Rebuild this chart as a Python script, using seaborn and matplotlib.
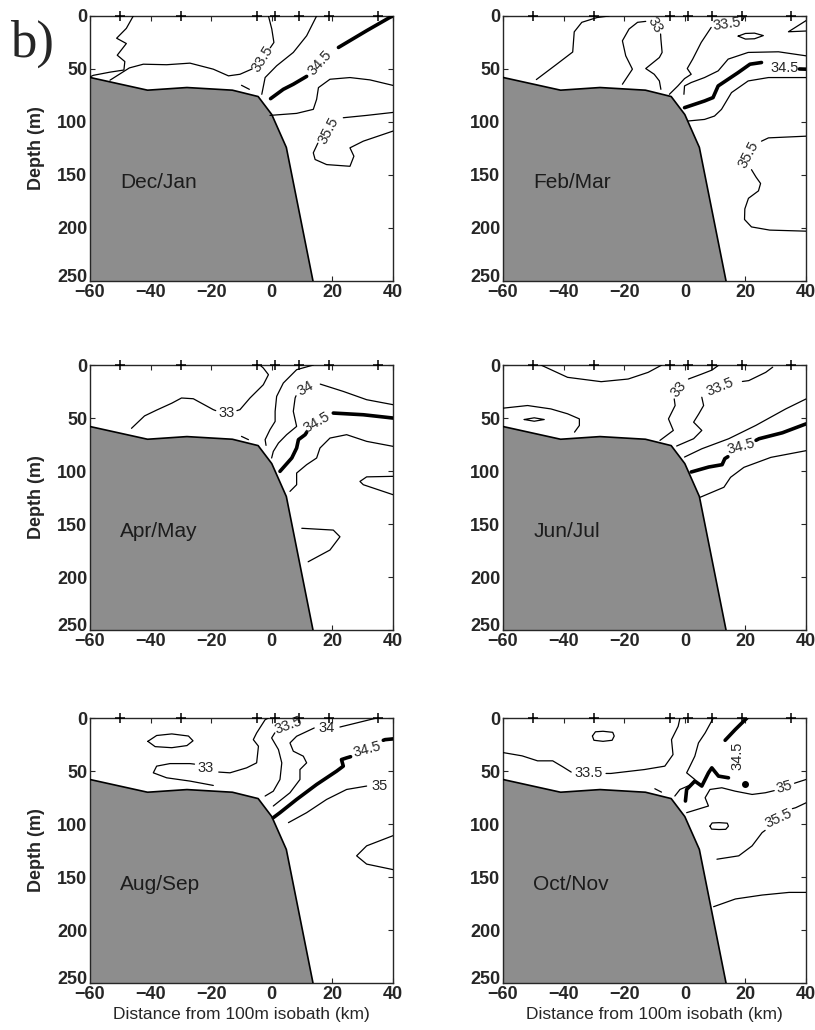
import numpy as np
import pandas as pd
import matplotlib
matplotlib.use('Agg')
import matplotlib.pyplot as plt
import matplotlib.transforms as mtransforms
import seaborn as sns

# station positions (km) and bathymetry of the section
stations = [-50, -30, -5, 1, 9, 19, 35]
shelf_x = [-60, -41, -28, -13, -4.5, 0, 4.8, 13.6]
shelf_d = [58, 70, 67.5, 70, 76, 93, 124, 250]
months = ['Dec/Jan', 'Feb/Mar', 'Apr/May', 'Jun/Jul', 'Aug/Sep', 'Oct/Nov']
xticks = [-60, -40, -20, 0, 20, 40]
yticks = [0, 50, 100, 150, 200, 250]

# salinity isolines, (distance km, depth m)
dec_jan_thin = [
    [(-45.7, 0), (-48, 11.7), (-51.2, 21), (-48, 26), (-51, 37), (-48.5, 43), (-48.8, 51), (-53.4, 53), (-58.9, 56), (-60, 57.5)],
    [(-53.4, 60.6), (-47, 49), (-42.4, 45.5), (-34.7, 46), (-27, 44.5), (-19.3, 50.2), (-14.3, 56.5), (-10.5, 55), (-6.5, 50)],
    [(-0.5, 30), (0.7, 25), (0, 12.3), (-1.1, 0)],
    [(-10, 65.4), (-7.4, 69.2)],
    [(14.8, 0), (11.5, 18.7), (7.1, 34.4), (1.6, 47), (-2.2, 58.1), (-3.3, 73.9)],
    [(-0.6, 93.8), (8.2, 91.9), (13.7, 88.1), (14.8, 78.6), (15.4, 67.6), (19.2, 59.7), (25.8, 58.1), (32.4, 60.3), (40, 65.5)],
    [(40, 91), (31.3, 93.8), (23.6, 96)],
    [(15.2, 120), (13.7, 129.1), (14.3, 135.4), (18.1, 140.2), (25.8, 141.8), (27.1, 132.3), (25.8, 124.4), (30.2, 118.1), (40, 108.6)],
]
dec_jan_thick = [
    [(40, 0), (39, 1.3), (31.3, 13.9), (22, 29.7)],
    [(11.5, 57), (7.1, 64.4), (3.8, 69.2), (-0.4, 78)],
]
dec_jan_labels = [('33.5', -3.0, 40, 58), ('34.5', 16, 44, 48), ('35.5', 18.6, 108, 62)]

feb_mar_thin = [
    [(-49, 60), (-42.5, 46), (-37, 34), (-36.5, 15), (-34, 6), (-29, 1.5), (-25, 0)],
    [(-20.6, 64.4), (-17.3, 50.2), (-19.5, 37.6), (-20.6, 23.4), (-18.4, 12.3), (-15.6, 6), (-12.9, 5.1)],
    [(-8, 17), (-7.9, 21.8), (-7.5, 34.4), (-8.4, 39.2), (-12.9, 49.6), (-10.1, 55), (-8.4, 61.3), (-7.9, 69.2)],
    [(-5.1, 73.9), (-2.3, 66), (-0.1, 59.1), (2.1, 55), (0.8, 49.6), (2.6, 40.7), (5.4, 25), (8.7, 10.8)],
    [(19, 4), (19.8, 0)],
    [(17.6, 19), (20, 16.5), (23, 16.2), (25.9, 18.5), (23, 21.5), (20, 21.8), (17.6, 19)],
    [(40, 4.4), (34.2, 14.9), (40, 14.2)],
    [(40, 37.6), (30.9, 33.8), (20.9, 34.4), (14.3, 40.7), (11, 51.8), (6.5, 58.1), (2.1, 62.8), (-0.1, 66), (-0.3, 73.9)],
    [(1, 99.1), (6.5, 97.6), (9.8, 94.4), (12.1, 88.1), (15.4, 72.3), (20.9, 61.3), (27.6, 58.1), (40, 58.1)],
    [(40, 113.4), (27.6, 115), (25.3, 118.1)],
    [(22, 145), (23.5, 152), (25, 158), (24.3, 165), (21, 172), (19.8, 182), (19.7, 192), (22, 199), (28, 202), (40, 203)],
]
feb_mar_thick = [
    [(-0.1, 86.5), (6.5, 80.2), (9.3, 77), (11, 66), (17.6, 53.4), (21.5, 45.5), (25.3, 43.9)],
    [(37.8, 50), (40, 50.2)],
]
feb_mar_labels = [('33', -10, 9, -60), ('33.5', 14, 7.5, 8), ('34.5', 33, 49, 0), ('35.5', 21, 131, 62)]

apr_may_thin = [
    [(-46.3, 59.7), (-42, 48), (-38, 42.5), (-33, 36), (-29.8, 31.1), (-25.9, 31.8), (-19.3, 42.1), (-18.5, 43)],
    [(-11.5, 43), (-10.5, 42.1), (-7.2, 31.1), (-2.8, 18.6), (-1.1, 9.1), (-2.8, 2.8), (-3.9, 0)],
    [(-10, 67.3), (-7.7, 70.4)],
    [(13.7, 0), (8.2, 4.4), (3.8, 17), (1.6, 29.6), (1.1, 43.7), (1.1, 53.2), (-0.6, 61), (-2.2, 70.4), (-1.9, 75.8)],
    [(40, 37.4), (31.3, 32.7), (23.6, 24.9), (16, 18)],
    [(8, 29), (7.7, 31.1), (7.1, 43.7), (8.2, 57.9), (4.9, 65.7), (2.2, 73.6), (0.5, 81.5), (-0.05, 87.7)],
    [(40, 76.7), (31.3, 72), (24.7, 65.7), (19.2, 68.9), (15.9, 78.3), (14.8, 87.7), (11.5, 94), (8.2, 101.9), (8.2, 112.9), (6, 119.2)],
    [(40, 122.3), (30.2, 112.9), (29.1, 109.8), (31.3, 105.5), (40, 105)],
    [(9.9, 154), (20.3, 155.7), (22.5, 162), (19.2, 174.5), (12, 185.6)],
]
apr_may_thick = [
    [(40, 50), (30.2, 46.9), (20.3, 45.3)],
    [(11.5, 63.5), (11, 65.7), (8.8, 70.4), (8.2, 78.3), (6.6, 87.7), (2.7, 100.3)],
]
apr_may_labels = [('33', -15, 45, 0), ('34', 11, 22, 30), ('34.5', 15, 54, 30)]

jun_jul_thin = [
    [(-47.5, 0), (-38.7, 11.6), (-27.6, 15.7), (-18.7, 13.2), (-12.1, 6.9), (-7.6, 0)],
    [(-60, 40.7), (-51.9, 38.2), (-44.2, 41.4), (-38.7, 46), (-34.8, 50.8), (-34.8, 57), (-36.4, 63.3)],
    [(-53, 51.4), (-49.7, 49.8), (-46.4, 51.4), (-49.7, 53), (-53, 51.4)],
    [(-8.2, 71.1), (-3.8, 61.7), (-5.4, 50.8), (-4.3, 44.5), (-3.2, 38.2), (-3.5, 32)],
    [(1.2, 13.2), (5.6, 8.5), (9, 4.7), (11, 0.5)],
    [(-2.7, 76.4), (2.9, 69.5), (5.6, 61.7), (2.9, 53.9), (4.6, 46.1), (6.2, 38.2), (5.6, 30.4)],
    [(19, 15.5), (21.1, 14.7), (26.7, 6.9), (29, 2)],
    [(-0.1, 86.8), (5.6, 79), (14.5, 69.5), (23.4, 57), (33.3, 41.4), (40, 32)],
    [(5.1, 124.7), (12.9, 115.3), (15.1, 105.9), (19.5, 96.5), (28.4, 87.1), (40, 80.8)],
]
jun_jul_thick = [
    [(2.1, 100.9), (7.9, 96.2), (12.3, 94), (13.2, 88.3), (14.2, 86.5)],
    [(23.5, 71), (24.5, 69.5), (32.2, 63.9), (40, 55.5)],
]
jun_jul_labels = [('33', -2, 23, 50), ('33.5', 11.7, 20.5, 22), ('34.5', 18.5, 77, 15)]

aug_sep_thin = [
    [(-40.9, 22), (-38, 16.5), (-33, 15), (-27.5, 17), (-26, 21.5), (-28, 26), (-33, 28), (-38.5, 27), (-40.9, 22)],
    [(-19.3, 63.6), (-27, 59.5), (-34.7, 56.4), (-39.1, 51.7), (-38, 45.4), (-33.6, 43), (-27, 43), (-25.5, 43.5)],
    [(-17.5, 51), (-13.8, 51.7), (-8.3, 47), (-5, 42.3), (-4.4, 26.6), (-6.1, 20.4), (-5, 14.1), (-2.2, 1.6), (-1.1, 0)],
    [(-2.2, 73.6), (0.5, 69), (2.7, 58), (3.3, 42.3), (2.2, 29.8), (-0.05, 18.8), (1, 14)],
    [(0.5, 83), (6, 70.5), (9.3, 58), (9.3, 48.6), (11.5, 42.3), (10.4, 36), (7.1, 31.3), (6, 23.5), (8.2, 17.2), (14, 9.4)],
    [(22.5, 8.5), (30.2, 3.1), (34.6, 0)],
    [(5.5, 98.7), (11.5, 89.3), (18.1, 76.8), (24.7, 67.4), (31.3, 64.2)],
    [(40, 111), (31.3, 120.6), (28, 130), (31.3, 137.8), (40, 143)],
]
aug_sep_thick = [
    [(0.5, 94), (2.7, 89.3), (8.2, 76.8), (14.8, 62.7), (21.4, 50.1), (23.6, 45.4), (23, 39.2), (24.7, 37.6), (26, 36.5)],
    [(36.8, 21), (37.4, 20.4), (40, 19.7)],
]
aug_sep_labels = [('33', -22, 47, 0), ('33.5', 5.5, 7, 20), ('34', 18, 9.4, 0), ('34.5', 31.5, 29.5, 15), ('35', 35.7, 64.5, 0)]

oct_nov_thin = [
    [(-30.5, 17), (-29.5, 13), (-27, 12.5), (-23.8, 13.5), (-23.3, 17), (-24, 21), (-27, 22), (-30, 21), (-30.5, 17)],
    [(-60, 32.6), (-53.7, 35.7), (-48.6, 40.4), (-43.6, 40.4), (-40.3, 46), (-37.5, 51)],
    [(-26, 52.3), (-24.4, 52.3), (-13.3, 48.6), (-6.6, 45.4), (-3.9, 34.5), (-4.4, 20.4), (-2.2, 7.8), (-1.6, 0)],
    [(-9.9, 66.7), (-7.7, 69.9)],
    [(9.4, 0), (6.7, 14.1), (4.5, 23.5), (3.3, 36), (1.7, 45.4), (0.6, 51.7), (3.3, 58), (2.2, 62.7), (-1.6, 67.4), (-3.3, 73.6)],
    [(0.6, 89.3), (7.8, 83), (6.7, 75.2), (8.3, 67.4), (12.2, 65.8), (16.6, 69), (22.2, 72.1), (26.6, 70.5), (29.5, 68.5)],
    [(36.2, 61.5), (40, 58)],
    [(8.3, 102), (9, 99), (11.3, 98.7), (14, 99.2), (14.4, 102), (13.5, 105), (11.3, 105.2), (8.8, 104.8), (8.3, 102)],
    [(40, 80), (36.6, 84.6), (35.5, 85.5)],
    [(26.5, 106), (25.5, 108.1), (22.2, 120.6), (17.8, 130), (10.6, 133.2)],
    [(9.5, 178), (16.7, 170.7), (25.5, 167), (34.4, 164.5), (40, 164.5)],
]
oct_nov_thick = [
    [(20.5, 0), (16.6, 11), (13.3, 21)],
    [(14.4, 56.4), (11.1, 54.8), (8.9, 47), (7.8, 51.7), (5.6, 64.2), (3.3, 59.5), (0.6, 67.4), (0.2, 78.3)],
]
oct_nov_labels = [('33.5', -31.6, 51.5, 0), ('34.5', 17.5, 36, 90), ('35', 32.7, 65.5, 15), ('35.5', 31, 95, 25)]
oct_nov_dot = (19.8, 62.7)

panels = [
    (dec_jan_thin, dec_jan_thick, dec_jan_labels),
    (feb_mar_thin, feb_mar_thick, feb_mar_labels),
    (apr_may_thin, apr_may_thick, apr_may_labels),
    (jun_jul_thin, jun_jul_thick, jun_jul_labels),
    (aug_sep_thin, aug_sep_thick, aug_sep_labels),
    (oct_nov_thin, oct_nov_thick, oct_nov_labels),
]

sns.set_style('ticks')
plt.rcParams['font.family'] = ['Liberation Sans', 'DejaVu Sans']


def draw_line(ax, pts, lw):
    df = pd.DataFrame(pts, columns=['x', 'd'])
    sns.lineplot(data=df, x='x', y='d', sort=False, estimator=None,
                 color='k', lw=lw, ax=ax, zorder=4)


fig = plt.figure(figsize=(8.15, 10.3), dpi=100)
lefts = [0.1104, 0.6172]
bottoms = [0.7272, 0.3883, 0.0456]
w, h = 0.3718, 0.2573
lift = mtransforms.ScaledTranslation(0, 4 / 72, fig.dpi_scale_trans)

for i, (thin, thick, labels) in enumerate(panels):
    row, col = divmod(i, 2)
    ax = fig.add_axes([lefts[col], bottoms[row], w, h])

    ax.fill(shelf_x + [-60], shelf_d + [250], facecolor='#8d8d8d', edgecolor='none', zorder=2)
    ax.plot(shelf_x, shelf_d, color='k', lw=1.2, zorder=3)

    for seg in thin:
        draw_line(ax, seg, 0.9)
    for seg in thick:
        draw_line(ax, seg, 2.6)
    for txt, x, d, rot in labels:
        ax.text(x, d, txt, rotation=rot, ha='center', va='center',
                fontsize=10.5, zorder=5, rotation_mode='anchor')
    if i == 5:
        ax.plot([oct_nov_dot[0]], [oct_nov_dot[1]], 'o', color='k', ms=4, zorder=5)

    ax.plot(stations, [0] * len(stations), '+', color='k', ms=6.5, mew=1.1,
            clip_on=False, zorder=6)
    ax.text(-50, 157, months[i], ha='left', va='center', fontsize=15,
            color='#1c1c1c', zorder=5)

    ax.set_xlim(-60, 40)
    ax.set_ylim(250, 0)
    ax.set_xticks(xticks)
    ax.set_yticks(yticks)
    ax.set_xticklabels([str(t).replace('-', '\u2212') for t in xticks])
    ax.tick_params(direction='in', top=True, right=True, length=3.5, width=0.8,
                   labelsize=13, pad=2)
    for lab in ax.get_xticklabels() + ax.get_yticklabels():
        lab.set_fontweight('bold')
    ylabs = ax.get_yticklabels()
    ylabs[-1].set_transform(ylabs[-1].get_transform() + lift)
    for sp in ax.spines.values():
        sp.set_linewidth(1.0)

    ax.set_xlabel('')
    ax.set_ylabel('')
    if col == 0:
        ax.set_ylabel('Depth (m)', fontsize=13, fontweight='bold')
        ax.yaxis.set_label_coords(-0.148, 0.5)
    if row == 2:
        ax.set_xlabel('Distance from 100m isobath (km)', fontsize=12.5)
        ax.xaxis.set_label_coords(0.5, -0.09)

fig.text(0.012, 1 - 44 / 1030, 'b)', fontsize=38, family='Liberation Serif',
         ha='left', va='center')

fig.savefig('out.png', dpi=100)
